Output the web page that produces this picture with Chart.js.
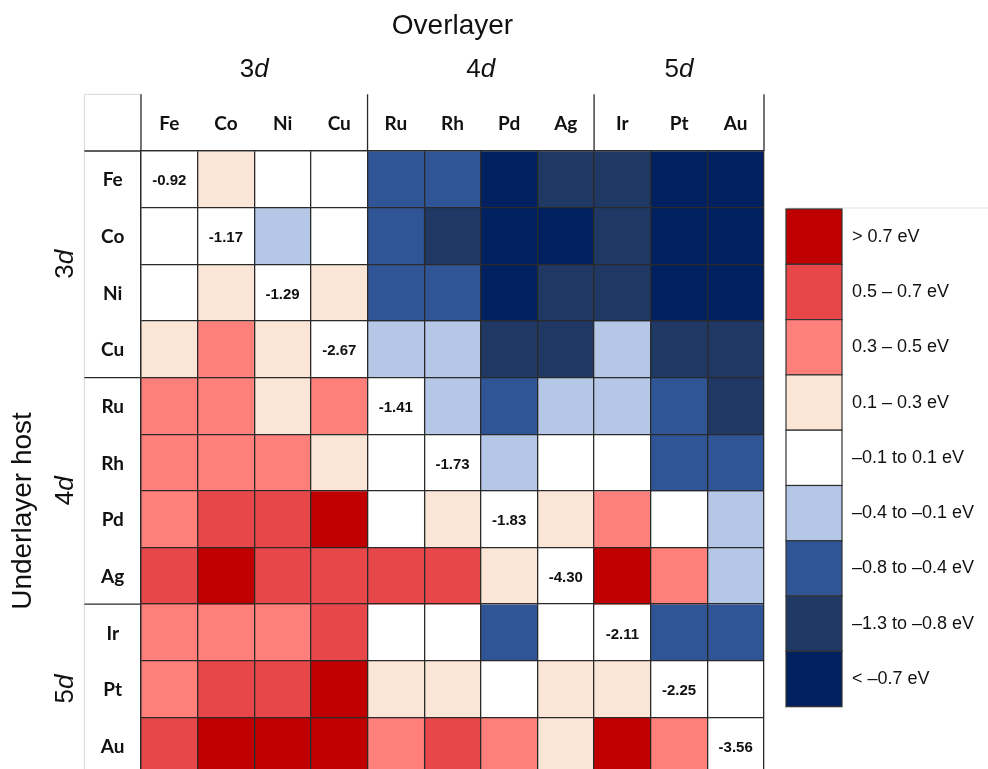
<!DOCTYPE html>
<html>
<head>
<meta charset="utf-8">
<script src="https://cdn.jsdelivr.net/npm/chart.js@4.4.1/dist/chart.umd.min.js"></script>
<style>
  html, body { margin: 0; padding: 0; background: #fff; overflow: hidden; }
  #wrap { width: 988px; height: 769px; overflow: hidden; position: relative; }
  canvas { display: block; }
</style>
</head>
<body>
<div id="wrap"><canvas id="heat" width="988" height="780"></canvas></div>
<script>
// Overlayer metals (columns) and underlayer hosts (rows)
const overlayers = ['Fe', 'Co', 'Ni', 'Cu', 'Ru', 'Rh', 'Pd', 'Ag', 'Ir', 'Pt', 'Au'];
const hosts      = ['Fe', 'Co', 'Ni', 'Cu', 'Ru', 'Rh', 'Pd', 'Ag', 'Ir', 'Pt', 'Au'];

// d-block groups: label and index of the first member
const groupLabels = ['3', '4', '5'];
const groupStarts = [0, 4, 8];

// Energy shifts (eV) per host row; diagonal entries are the pure-metal references
const feHost = [-0.92, 0.2, 0.0, 0.0, -0.6, -0.6, -1.5, -1.0, -1.0, -1.5, -1.5];
const coHost = [0.0, -1.17, -0.25, 0.0, -0.6, -1.0, -1.5, -1.5, -1.0, -1.5, -1.5];
const niHost = [0.0, 0.2, -1.29, 0.2, -0.6, -0.6, -1.5, -1.0, -1.0, -1.5, -1.5];
const cuHost = [0.2, 0.4, 0.2, -2.67, -0.25, -0.25, -1.0, -1.0, -0.25, -1.0, -1.0];
const ruHost = [0.4, 0.4, 0.2, 0.4, -1.41, -0.25, -0.6, -0.25, -0.25, -0.6, -1.0];
const rhHost = [0.4, 0.4, 0.4, 0.2, 0.0, -1.73, -0.25, 0.0, 0.0, -0.6, -0.6];
const pdHost = [0.4, 0.6, 0.6, 0.8, 0.0, 0.2, -1.83, 0.2, 0.4, 0.0, -0.25];
const agHost = [0.6, 0.8, 0.6, 0.6, 0.6, 0.6, 0.2, -4.30, 0.8, 0.4, -0.25];
const irHost = [0.4, 0.4, 0.4, 0.6, 0.0, 0.0, -0.6, 0.0, -2.11, -0.6, -0.6];
const ptHost = [0.4, 0.6, 0.6, 0.8, 0.2, 0.2, 0.0, 0.2, 0.2, -2.25, 0.0];
const auHost = [0.6, 0.8, 0.8, 0.8, 0.4, 0.6, 0.4, 0.2, 0.8, 0.4, -3.56];
const hostRows = [feHost, coHost, niHost, cuHost, ruHost, rhHost, pdHost, agHost, irHost, ptHost, auHost];

// Colour bins: lower bound (exclusive) of each bin, colour, legend text
const binLower  = [0.7, 0.5, 0.3, 0.1, -0.1, -0.4, -0.8, -1.3, -Infinity];
const binColors = ['#C00000', '#E8474A', '#FF7F7B', '#FBE5D6', '#FFFFFF', '#B4C7E7', '#2F5597', '#203864', '#002060'];
const binLabels = ['> 0.7 eV', '0.5 \u2013 0.7 eV', '0.3 \u2013 0.5 eV', '0.1 \u2013 0.3 eV',
                   '\u20130.1 to 0.1 eV', '\u20130.4 to \u20130.1 eV', '\u20130.8 to \u20130.4 eV',
                   '\u20131.3 to \u20130.8 eV', '< \u20130.7 eV'];

const LINE = '#2a2a2a';
const TEXT = '#111111';

function colorFor(v) {
  for (let i = 0; i < binLower.length; i++) {
    if (v > binLower[i]) return binColors[i];
  }
  return binColors[binColors.length - 1];
}

// One floating-bar dataset per host row: each bar spans its row slot [r, r+1]
const datasets = hostRows.map((row, r) => ({
  label: hosts[r],
  data: row.map(() => [r, r + 1]),
  shifts: row,
  backgroundColor: row.map((v, c) => (c === r ? '#FFFFFF' : colorFor(v))),
  borderWidth: 0,
  borderSkipped: false,
  barPercentage: 1,
  categoryPercentage: 1,
  grouped: false
}));

// Draws "3d"/"4d"/"5d" with an italic d, centred at (0,0) in the current transform
function drawOrbital(ctx, digit, size) {
  const up = `${size}px "Liberation Sans", Arial, sans-serif`;
  const it = `italic ${size}px "Liberation Sans", Arial, sans-serif`;
  ctx.font = up; const w1 = ctx.measureText(digit).width;
  ctx.font = it; const w2 = ctx.measureText('d').width;
  const x0 = -(w1 + w2) / 2;
  ctx.textAlign = 'left';
  ctx.textBaseline = 'middle';
  ctx.font = up; ctx.fillText(digit, x0, 0);
  ctx.font = it; ctx.fillText('d', x0 + w1, 0);
}

const frame = {
  id: 'frame',
  afterDraw(chart) {
    const { ctx, chartArea: a, scales: { x, y } } = chart;
    const cw = (a.right - a.left) / overlayers.length;
    const ch = y.getPixelForValue(1) - y.getPixelForValue(0);
    const headTop = a.top - ch;
    const labLeft = a.left - cw;
    const colEdge = i => x.getPixelForValue(Math.min(i, overlayers.length - 1)) + (i < overlayers.length ? -cw / 2 : cw / 2);
    ctx.save();

    // faint outline of the corner cell
    ctx.strokeStyle = '#d8d8d8';
    ctx.lineWidth = 1;
    ctx.beginPath();
    ctx.moveTo(labLeft, headTop); ctx.lineTo(a.left, headTop);
    ctx.moveTo(labLeft, headTop); ctx.lineTo(labLeft, chart.height);
    ctx.stroke();

    // group separators in the header row and in the row-label column
    ctx.strokeStyle = LINE;
    ctx.lineWidth = 1.3;
    ctx.beginPath();
    [...groupStarts, overlayers.length].forEach(i => {
      const px = colEdge(i);
      ctx.moveTo(px, headTop); ctx.lineTo(px, a.top);
    });
    groupStarts.forEach(i => {
      const py = y.getPixelForValue(i);
      ctx.moveTo(labLeft, py); ctx.lineTo(a.left, py);
    });
    ctx.stroke();

    ctx.fillStyle = TEXT;
    // column and row element labels
    ctx.font = 'bold 19px Lato, "Open Sans", sans-serif';
    ctx.textAlign = 'center';
    ctx.textBaseline = 'middle';
    overlayers.forEach((m, i) => ctx.fillText(m, x.getPixelForValue(i), headTop + ch / 2 + 1));
    hosts.forEach((m, i) => ctx.fillText(m, labLeft + cw / 2, y.getPixelForValue(i + 0.5) + 1));

    // pure-metal reference values on the diagonal
    ctx.font = 'bold 15px "Liberation Sans", Arial, sans-serif';
    chart.data.datasets.forEach((ds, r) => {
      const v = ds.shifts[r];
      ctx.fillText(v.toFixed(2), x.getPixelForValue(r), y.getPixelForValue(r + 0.5) + 2);
    });

    // axis titles
    ctx.font = '28px "Liberation Sans", Arial, sans-serif';
    ctx.fillText('Overlayer', (colEdge(0) + colEdge(overlayers.length)) / 2, 26);
    ctx.save();
    ctx.translate(23, 511);
    ctx.rotate(-Math.PI / 2);
    ctx.fillText('Underlayer host', 0, 0);
    ctx.restore();

    // group labels above columns and beside rows
    groupStarts.forEach((s, g) => {
      const e = g + 1 < groupStarts.length ? groupStarts[g + 1] : overlayers.length;
      ctx.save();
      ctx.translate((colEdge(s) + colEdge(e)) / 2, 70);
      drawOrbital(ctx, groupLabels[g], 26);
      ctx.restore();
      ctx.save();
      ctx.translate(66, (y.getPixelForValue(s) + y.getPixelForValue(e)) / 2);
      ctx.rotate(-Math.PI / 2);
      drawOrbital(ctx, groupLabels[g], 26);
      ctx.restore();
    });

    // colour key
    const lx = 786, ly = 209, lw = 56, lh = 55.3;
    ctx.strokeStyle = '#e0e0e0';
    ctx.lineWidth = 1;
    ctx.beginPath();
    ctx.moveTo(lx, ly - 1); ctx.lineTo(chart.width, ly - 1);
    ctx.stroke();
    binColors.forEach((c, i) => {
      ctx.fillStyle = c;
      ctx.fillRect(lx, ly + i * lh, lw, lh);
      ctx.strokeStyle = '#333';
      ctx.lineWidth = 1.2;
      ctx.strokeRect(lx, ly + i * lh, lw, lh);
    });
    ctx.fillStyle = TEXT;
    ctx.font = '18px "Liberation Sans", Arial, sans-serif';
    ctx.textAlign = 'left';
    binLabels.forEach((t, i) => ctx.fillText(t, lx + lw + 10, ly + (i + 0.5) * lh));

    ctx.restore();
  }
};

new Chart(document.getElementById('heat'), {
  type: 'bar',
  data: { labels: overlayers, datasets },
  plugins: [frame],
  options: {
    responsive: false,
    animation: false,
    events: [],
    layout: { padding: { left: 141, top: 151, right: 224, bottom: 6 } },
    plugins: { legend: { display: false }, tooltip: { enabled: false } },
    scales: {
      x: {
        type: 'category',
        position: 'top',
        offset: true,
        grid: { offset: true, color: LINE, lineWidth: 1.3, drawTicks: false, z: 1 },
        border: { display: true, color: LINE, width: 1.3, z: 1 },
        ticks: { display: false },
        afterFit: s => { s.height = 0; }
      },
      y: {
        type: 'linear',
        min: 0,
        max: 11,
        reverse: true,
        grid: { color: LINE, lineWidth: 1.3, drawTicks: false, z: 1 },
        border: { display: true, color: LINE, width: 1.3, z: 1 },
        ticks: { display: false, stepSize: 1 },
        afterFit: s => { s.width = 0; }
      }
    }
  }
});
</script>
</body>
</html>
